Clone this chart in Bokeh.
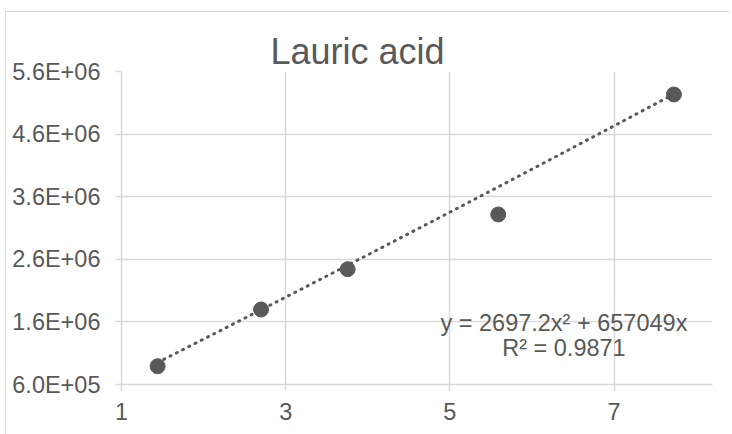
import numpy as np
from bokeh.plotting import figure
from bokeh.models import FixedTicker, Label, Range1d, Title
from bokeh.embed import file_html
from bokeh.resources import INLINE

# ---- data ----
x_vals = [1.44, 2.70, 3.755, 5.59, 7.73]
y_vals = [0.892e6, 1.798e6, 2.442e6, 3.316e6, 5.233e6]
trend_coef = [2697.2, 657049.0, 0.0]  # y = a x^2 + b x + c
x_ticks = [1, 3, 5, 7]
y_ticks = [6.0e5, 1.6e6, 2.6e6, 3.6e6, 4.6e6, 5.6e6]
y_tick_labels = ["6.0E+05", "1.6E+06", "2.6E+06", "3.6E+06", "4.6E+06", "5.6E+06"]
title_text = "Lauric acid"
eq_line1 = "y = 2697.2x\u00b2 + 657049x"
eq_line2 = "R\u00b2 = 0.9871"

GRAY = "#595959"
GRID = "#d9d9d9"
FONT = "Liberation Sans"

p = figure(width=724, height=423, output_backend="svg", toolbar_location=None,
           x_range=Range1d(1, 8.2), y_range=Range1d(6.0e5, 5.6e6),
           min_border_left=115, min_border_right=18, min_border_top=59,
           min_border_bottom=51)

p.outline_line_color = None
p.background_fill_color = "white"
p.border_fill_color = "white"
p.title.text = ""

# main title
p.add_layout(Title(text=title_text, text_font=FONT, text_font_size="36px",
                   text_font_style="normal", text_color=GRAY, align="left",
                   offset=149, standoff=0), "above")
# invisible spacer panel between plot area and title
p.add_layout(Title(text="x", text_alpha=0, text_font_size="1px", standoff=10), "above")

# grids
p.xgrid.ticker = FixedTicker(ticks=x_ticks)
p.ygrid.ticker = FixedTicker(ticks=y_ticks)
for g in (p.xgrid, p.ygrid):
    g.grid_line_color = GRID
    g.grid_line_width = 1.5

# axes
p.xaxis.ticker = FixedTicker(ticks=x_ticks)
p.yaxis.ticker = FixedTicker(ticks=y_ticks)
p.yaxis.major_label_overrides = {t: l for t, l in zip(y_ticks, y_tick_labels)}
for ax in (p.xaxis, p.yaxis):
    ax.axis_line_color = GRID
    ax.axis_line_width = 1.5
    ax.major_tick_line_color = GRID
    ax.major_tick_line_width = 1.5
    ax.major_tick_in = 0
    ax.major_tick_out = 6
    ax.minor_tick_line_color = None
    ax.major_label_text_font = FONT
    ax.major_label_text_font_size = "23.5px"
    ax.major_label_text_color = GRAY
p.xaxis.major_label_standoff = 12
p.yaxis.major_label_standoff = 15

# trendline from the fitted equation
xt = np.linspace(min(x_vals), max(x_vals), 200)
yt = np.polyval(trend_coef, xt)
p.line(xt, yt, line_color=GRAY, line_width=3, line_dash="1 6", line_cap="round")

# points
p.scatter(x_vals, y_vals, size=15, fill_color=GRAY, line_color=GRAY)

# equation labels
p.add_layout(Label(x=6.39, y=1.58e6, text=eq_line1, text_align="center",
                   text_baseline="alphabetic", text_font=FONT,
                   text_font_size="23.5px", text_color=GRAY))
p.add_layout(Label(x=6.39, y=1.18e6, text=eq_line2, text_align="center",
                   text_baseline="alphabetic", text_font=FONT,
                   text_font_size="23.5px", text_color=GRAY))

p.styles = {"border-left": f"1px solid {GRID}", "border-top": f"1px solid {GRID}",
            "margin-left": "5px", "margin-top": "11px"}

open("out.html", "w").write(file_html(p, INLINE))
